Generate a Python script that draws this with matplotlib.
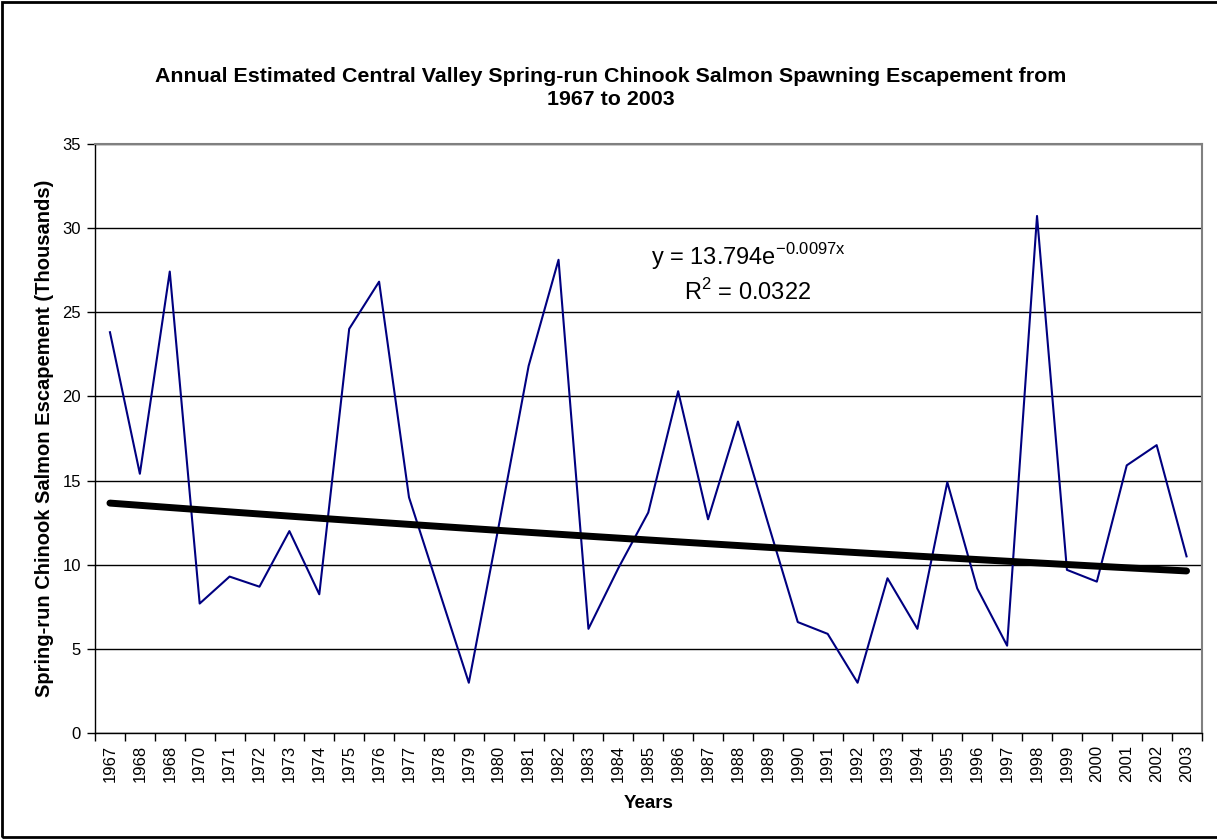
import matplotlib
matplotlib.use("Agg")
import matplotlib.pyplot as plt
import numpy as np

plt.rcParams["font.family"] = ["Liberation Sans", "DejaVu Sans"]

# ─── Data (thousands of fish) ────────────────────────────────────────────────
years = ["1967", "1968", "1968", "1970", "1971", "1972", "1973", "1974", "1975",
         "1976", "1977", "1978", "1979", "1980", "1981", "1982", "1983", "1984",
         "1985", "1986", "1987", "1988", "1989", "1990", "1991", "1992", "1993",
         "1994", "1995", "1996", "1997", "1998", "1999", "2000", "2001", "2002",
         "2003"]
escapement = [23.8, 15.4, 27.4, 7.7, 9.3, 8.7, 12.0, 8.25, 24.0,
              26.8, 14.0, 8.5, 3.0, 12.3, 21.8, 28.1, 6.2, 9.8,
              13.1, 20.3, 12.7, 18.5, 12.5, 6.6, 5.9, 3.0, 9.2,
              6.2, 14.9, 8.6, 5.2, 30.7, 9.7, 9.0, 15.9, 17.1,
              10.5]
y_ticks = [0, 5, 10, 15, 20, 25, 30, 35]

# Excel exponential trendline shown on the chart
trend_a = 13.794
trend_b = -0.0097

W, H = 1217, 840
fig = plt.figure(figsize=(W / 100, H / 100), dpi=100)

# outer chart border
fig.add_artist(plt.Rectangle((1.5 / W, 3.5 / H), (W + 10) / W, (H - 5.0) / H,
                             transform=fig.transFigure, fill=False,
                             edgecolor="black", linewidth=2.0))

left, right, top, bottom = 95, 1201.5, 143.5, 733.3
ax = fig.add_axes([left / W, (H - bottom) / H, (right - left) / W, (bottom - top) / H])

x = np.arange(len(years))
ax.plot(x, escapement, color="#000080", linewidth=1.5, zorder=3)

xt = x + 1
ax.plot(x, trend_a * np.exp(trend_b * xt), color="black", linewidth=5,
        solid_capstyle="round", zorder=4)

ax.set_xlim(-0.5, len(years) - 0.5)
ax.set_ylim(0, 35)
ax.set_yticks(y_ticks)
ax.set_yticklabels([str(v) for v in y_ticks], fontsize=12)
ax.yaxis.grid(True, color="black", linewidth=1.0)
ax.set_axisbelow(True)

ax.set_xticks(x)
ax.set_xticklabels(years, rotation=90, fontsize=12)
ax.set_xticks(np.arange(-0.5, len(years)), minor=True)
ax.tick_params(axis="x", which="major", length=0, pad=8)
ax.tick_params(axis="x", which="minor", length=6, width=1, direction="out")
ax.tick_params(axis="y", length=6, width=1, direction="out", pad=4)

for side in ("top", "right"):
    ax.spines[side].set_color("#808080")
    ax.spines[side].set_linewidth(1.5)
for side in ("left", "bottom"):
    ax.spines[side].set_color("black")
    ax.spines[side].set_linewidth(1.0)

ax.set_ylabel("Spring-run Chinook Salmon Escapement (Thousands)",
              fontsize=14.5, fontweight="bold")
ax.yaxis.set_label_coords(-41 / (right - left), 0.5)
ax.set_xlabel("Years", fontsize=13.5, fontweight="bold")
ax.xaxis.set_label_coords(0.5, -(803 - bottom) / (bottom - top))
ax.xaxis.label.set_va("center")

fig.text(611 / W, 1 - 88 / H,
         "Annual Estimated Central Valley Spring-run Chinook Salmon Spawning Escapement from\n1967 to 2003",
         ha="center", va="center", fontsize=15.4, fontweight="bold", linespacing=1.25)

ax.text(748 / W, 1 - 265 / H, r"y = 13.794e$^{\mathregular{-0.0097x}}$",
        transform=fig.transFigure, ha="center", va="baseline", fontsize=17)
ax.text(748 / W, 1 - 300 / H, r"R$^{\mathregular{2}}$ = 0.0322",
        transform=fig.transFigure, ha="center", va="baseline", fontsize=17)

fig.savefig("out.png", dpi=100, facecolor="white")
